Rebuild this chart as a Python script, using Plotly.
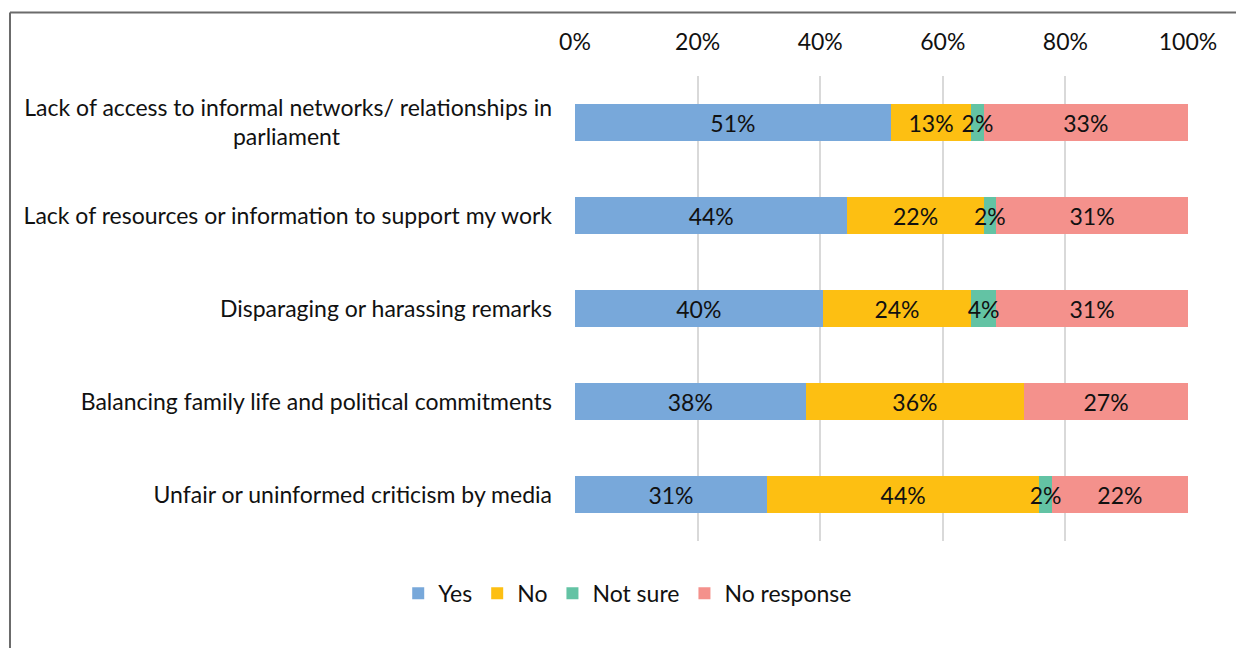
import plotly.graph_objects as go

# Survey items (top to bottom) and share of responses per answer, in %
items = [
    "Lack of access to informal networks/ relationships in<br>parliament" + "\u00a0" * 36,
    "Lack of resources or information to support my work",
    "Disparaging or harassing remarks",
    "Balancing family life and political commitments",
    "Unfair or uninformed criticism by media",
]
yes = [51, 44, 40, 38, 31]
no = [13, 22, 24, 36, 44]
not_sure = [2, 2, 4, None, 2]
no_response = [33, 31, 31, 27, 22]

series = [
    ("Yes", yes, "#78A8DA"),
    ("No", no, "#FDBF12"),
    ("Not sure", not_sure, "#63C3A4"),
    ("No response", no_response, "#F4918C"),
]
# labels of thin segments spill over their neighbours, so they go on a
# transparent copy of the stack drawn above the coloured bars
top_layer = {"Not sure"}

FONT = "Lato"
SIZE = 23


def labels(vals):
    return [f"{v}%" if v else "" for v in vals]


fig = go.Figure()
for name, vals, color in series:
    common = dict(
        y=items, x=vals, orientation="h", width=0.4,
        textposition="inside", insidetextanchor="middle", textangle=0,
        textfont=dict(family=FONT, size=SIZE, color="#111111"),
        constraintext="none", hoverinfo="skip",
    )
    fig.add_trace(go.Bar(
        name=name,
        marker=dict(color=color, line=dict(width=0)),
        text=[""] * len(vals) if name in top_layer else labels(vals),
        **common,
    ))
    fig.add_trace(go.Bar(
        name=name, showlegend=False, xaxis="x2",
        marker=dict(color="rgba(0,0,0,0)", line=dict(width=0)),
        text=labels(vals) if name in top_layer else [""] * len(vals),
        **common,
    ))

# outer frame (left and top edges)
frame = dict(type="line", xref="paper", yref="paper",
             line=dict(color="#6b6b6b", width=2))
fig.add_shape(**frame, x0=-0.9217, x1=-0.9217, y0=1.1366, y1=-0.3)
fig.add_shape(**frame, x0=-0.9217, x1=1.2, y0=1.1366, y1=1.1366)

fig.update_layout(
    barmode="stack",
    barnorm="percent",
    width=1236, height=648,
    margin=dict(l=575, r=48, t=76, b=107),
    paper_bgcolor="white", plot_bgcolor="white",
    font=dict(family=FONT, size=SIZE, color="#111111"),
    uniformtext=dict(minsize=SIZE, mode="show"),
    showlegend=True,
    legend=dict(orientation="h", x=0.086, xanchor="center", y=-0.066, yanchor="top",
                font=dict(family=FONT, size=SIZE, color="#111111"),
                traceorder="normal", itemwidth=30),
    xaxis=dict(range=[0, 100], side="top", tickvals=[0, 20, 40, 60, 80, 100],
               ticktext=["0%", "20%", "40%", "60%", "80%", "100%"],
               showgrid=True, gridcolor="#D9D9D9", gridwidth=2,
               zeroline=False, showline=False, ticks="", ticklabelstandoff=20,
               fixedrange=True),
    xaxis2=dict(range=[0, 100], overlaying="x", side="top", visible=False,
                showgrid=False, zeroline=False, fixedrange=True),
    yaxis=dict(autorange="reversed", showgrid=False, zeroline=False, showline=False,
               ticks="", ticklabelstandoff=22, fixedrange=True),
)

fig.write_html("out.html")
